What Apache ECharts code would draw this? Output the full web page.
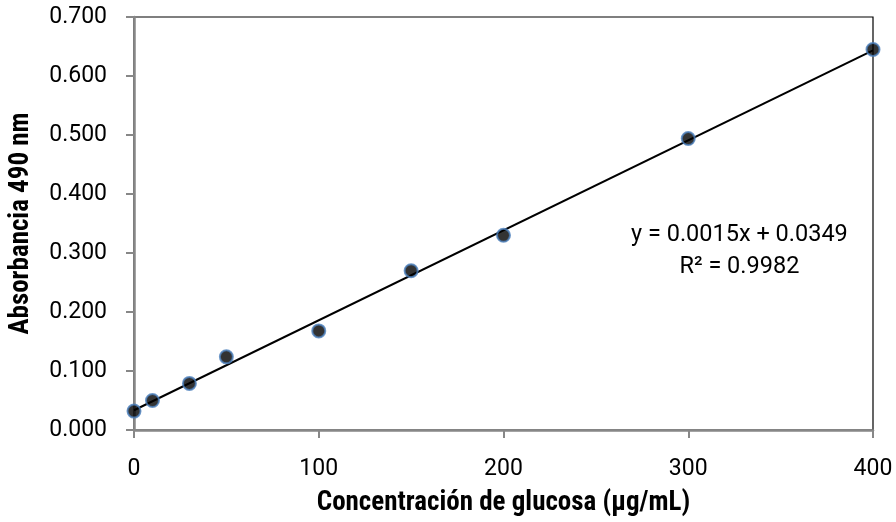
<!DOCTYPE html>
<html>
<head>
<meta charset="utf-8">
<script src="https://cdn.jsdelivr.net/npm/echarts@6/dist/echarts.min.js"></script>
<style>
  html, body { margin: 0; padding: 0; background: #fff; }
  #chart { width: 896px; height: 522px; }
</style>
</head>
<body>
<div id="chart"></div>
<script>
// Glucose calibration curve: concentration (µg/mL) vs absorbance at 490 nm
const concentrations = [0, 10, 30, 50, 100, 150, 200, 300, 400];
const absorbances = [0.032, 0.050, 0.079, 0.124, 0.168, 0.270, 0.330, 0.494, 0.645];
const yTicks = [0, 0.1, 0.2, 0.3, 0.4, 0.5, 0.6, 0.7];
const xTicks = [0, 100, 200, 300, 400];
const equationText = 'y = 0.0015x + 0.0349';
const r2Text = 'R² = 0.9982';

// Least-squares linear fit of the measured points
function linearFit(xs, ys) {
  const n = xs.length;
  const mx = xs.reduce((a, b) => a + b, 0) / n;
  const my = ys.reduce((a, b) => a + b, 0) / n;
  let sxy = 0, sxx = 0;
  for (let i = 0; i < n; i++) {
    sxy += (xs[i] - mx) * (ys[i] - my);
    sxx += (xs[i] - mx) * (xs[i] - mx);
  }
  const slope = sxy / sxx;
  return { slope, intercept: my - slope * mx };
}
const fit = linearFit(concentrations, absorbances);
const xMin = xTicks[0], xMax = xTicks[xTicks.length - 1];
const yMin = yTicks[0], yMax = yTicks[yTicks.length - 1];
const trendData = [xMin, xMax].map(x => [x, fit.intercept + fit.slope * x]);
const points = concentrations.map((x, i) => [x, absorbances[i]]);

const numFont = 'Roboto, "Liberation Sans", sans-serif';
const titleFont = '"Liberation Sans Narrow", "Roboto Condensed", "DejaVu Sans Condensed", sans-serif';
const axisGray = '#878787';

const chart = echarts.init(document.getElementById('chart'));
chart.setOption({
  animation: false,
  grid: {
    left: 133, right: 23, top: 17, bottom: 92,
    show: true, borderColor: '#000', borderWidth: 1.2, backgroundColor: 'transparent'
  },
  xAxis: {
    type: 'value', min: xMin, max: xMax, interval: 100,
    name: 'Concentración de glucosa (µg/mL)',
    nameLocation: 'middle', nameGap: 60,
    nameTextStyle: { fontFamily: titleFont, fontWeight: 'bold', fontSize: 27, color: '#000' },
    axisLine: { show: true, lineStyle: { color: axisGray, width: 2.5 } },
    axisTick: { show: true, inside: false, length: 8, lineStyle: { color: axisGray, width: 2 } },
    axisLabel: { margin: 28, fontFamily: numFont, fontSize: 23, color: '#000' },
    splitLine: { show: false }
  },
  yAxis: {
    type: 'value', min: yMin, max: yMax, interval: 0.1,
    name: 'Absorbancia 490 nm',
    nameLocation: 'middle', nameGap: 99,
    nameTextStyle: { fontFamily: titleFont, fontWeight: 'bold', fontSize: 27, color: '#000' },
    axisLine: { show: true, lineStyle: { color: axisGray, width: 2.5 } },
    axisTick: { show: true, inside: false, length: 8, lineStyle: { color: axisGray, width: 2 } },
    axisLabel: {
      margin: 27, fontFamily: numFont, fontSize: 23, color: '#000',
      formatter: v => v.toFixed(3)
    },
    splitLine: { show: false }
  },
  graphic: [{
    type: 'text',
    left: 631, top: 219,
    style: {
      text: equationText + '\n' + r2Text,
      textAlign: 'center',
      font: '23.5px ' + numFont,
      fill: '#000',
      lineHeight: 32
    }
  }],
  series: [
    {
      type: 'line',
      data: trendData,
      showSymbol: false,
      lineStyle: { color: '#000', width: 2 },
      silent: true,
      z: 2
    },
    {
      type: 'scatter',
      data: points,
      symbol: 'circle',
      symbolSize: 13,
      itemStyle: { color: '#000', borderColor: '#4a7ebb', borderWidth: 2 },
      z: 3
    }
  ]
});
</script>
</body>
</html>
